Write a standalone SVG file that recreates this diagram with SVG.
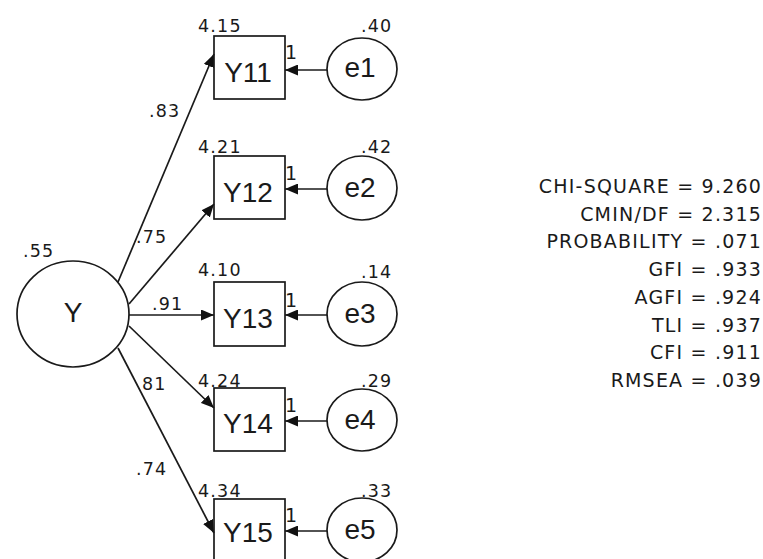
<svg xmlns="http://www.w3.org/2000/svg" width="763" height="559" viewBox="0 0 763 559">
<defs>
<marker id="ah" markerWidth="13" markerHeight="11" refX="13" refY="5.5" orient="auto" markerUnits="userSpaceOnUse">
<path d="M0,0 L13,5.5 L0,11 z" fill="#111"/>
</marker>
<style>
.shape{fill:none;stroke:#1a1a1a;stroke-width:1.7}
.conn line{stroke:#1a1a1a;stroke-width:1.7;marker-end:url(#ah)}
.lbl{font-family:"Liberation Sans",Arial,sans-serif;font-size:28px;fill:#1a1a1a;text-anchor:middle}
.num{font-family:"DejaVu Sans",Verdana,sans-serif;font-size:17.5px;fill:#1a1a1a;letter-spacing:1.2px}
.one{font-family:"DejaVu Sans",Verdana,sans-serif;font-size:19px;fill:#1a1a1a}
.fit{font-family:"DejaVu Sans",Verdana,sans-serif;font-size:19px;fill:#1a1a1a;letter-spacing:1.2px;text-anchor:end}
</style>
</defs>
<rect width="763" height="559" fill="#ffffff"/>

<g id="connectors" class="conn">
<line x1="118" y1="282" x2="214" y2="54"/>
<line x1="129" y1="304" x2="214" y2="204"/>
<line x1="129" y1="315" x2="214" y2="315"/>
<line x1="129" y1="326" x2="214" y2="408"/>
<line x1="118" y1="348" x2="214" y2="533"/>
<line x1="327" y1="70" x2="285" y2="70"/>
<line x1="327" y1="189" x2="285" y2="189"/>
<line x1="327" y1="315" x2="285" y2="315"/>
<line x1="327" y1="421" x2="285" y2="421"/>
<line x1="327" y1="531" x2="285" y2="531"/>
</g>

<g id="Y">
<ellipse class="shape" cx="73" cy="314" rx="56" ry="53"/>
<text class="lbl" x="73" y="322">Y</text>
<text class="num" x="23" y="257">.55</text>
</g>

<g id="Y11">
<rect class="shape" x="214" y="36" width="71" height="63"/>
<text class="lbl" x="248" y="82">Y11</text>
<text class="num" x="198" y="32">4.15</text>
<text class="one" x="285" y="59">1</text>
</g>
<g id="Y12">
<rect class="shape" x="214" y="156" width="71" height="63"/>
<text class="lbl" x="248" y="202">Y12</text>
<text class="num" x="198" y="153">4.21</text>
<text class="one" x="285" y="180">1</text>
</g>
<g id="Y13">
<rect class="shape" x="214" y="282" width="71" height="64"/>
<text class="lbl" x="248" y="328">Y13</text>
<text class="num" x="198" y="276">4.10</text>
<text class="one" x="285" y="307">1</text>
</g>
<g id="Y14">
<rect class="shape" x="214" y="388" width="71" height="63"/>
<text class="lbl" x="248" y="433">Y14</text>
<text class="num" x="198" y="387">4.24</text>
<text class="one" x="285" y="412">1</text>
</g>
<g id="Y15">
<rect class="shape" x="214" y="499" width="71" height="63"/>
<text class="lbl" x="248" y="542">Y15</text>
<text class="num" x="198" y="497">4.34</text>
<text class="one" x="285" y="522">1</text>
</g>

<g id="e1">
<ellipse class="shape" cx="362" cy="69" rx="35" ry="31"/>
<text class="lbl" x="360" y="77">e1</text>
<text class="num" x="361" y="32">.40</text>
</g>
<g id="e2">
<ellipse class="shape" cx="362" cy="188" rx="35" ry="32"/>
<text class="lbl" x="360" y="197">e2</text>
<text class="num" x="361" y="153">.42</text>
</g>
<g id="e3">
<ellipse class="shape" cx="362" cy="314" rx="35" ry="32"/>
<text class="lbl" x="360" y="323">e3</text>
<text class="num" x="361" y="278">.14</text>
</g>
<g id="e4">
<ellipse class="shape" cx="362" cy="420" rx="35" ry="31"/>
<text class="lbl" x="360" y="429">e4</text>
<text class="num" x="361" y="387">.29</text>
</g>
<g id="e5">
<ellipse class="shape" cx="362" cy="530" rx="35" ry="32"/>
<text class="lbl" x="360" y="539">e5</text>
<text class="num" x="361" y="497">.33</text>
</g>

<g id="path-labels">
<text class="num" x="149" y="117">.83</text>
<text class="num" x="136" y="243">.75</text>
<text class="num" x="152" y="310">.91</text>
<text class="num" x="142" y="390">81</text>
<text class="num" x="136" y="475">.74</text>
</g>

<g id="fit-stats">
<text class="fit" x="762" y="193">CHI-SQUARE = 9.260</text>
<text class="fit" x="762" y="220.7">CMIN/DF = 2.315</text>
<text class="fit" x="762" y="248.4">PROBABILITY = .071</text>
<text class="fit" x="762" y="276.1">GFI = .933</text>
<text class="fit" x="762" y="303.8">AGFI = .924</text>
<text class="fit" x="762" y="331.5">TLI = .937</text>
<text class="fit" x="762" y="359.2">CFI = .911</text>
<text class="fit" x="762" y="386.9">RMSEA = .039</text>
</g>
</svg>
